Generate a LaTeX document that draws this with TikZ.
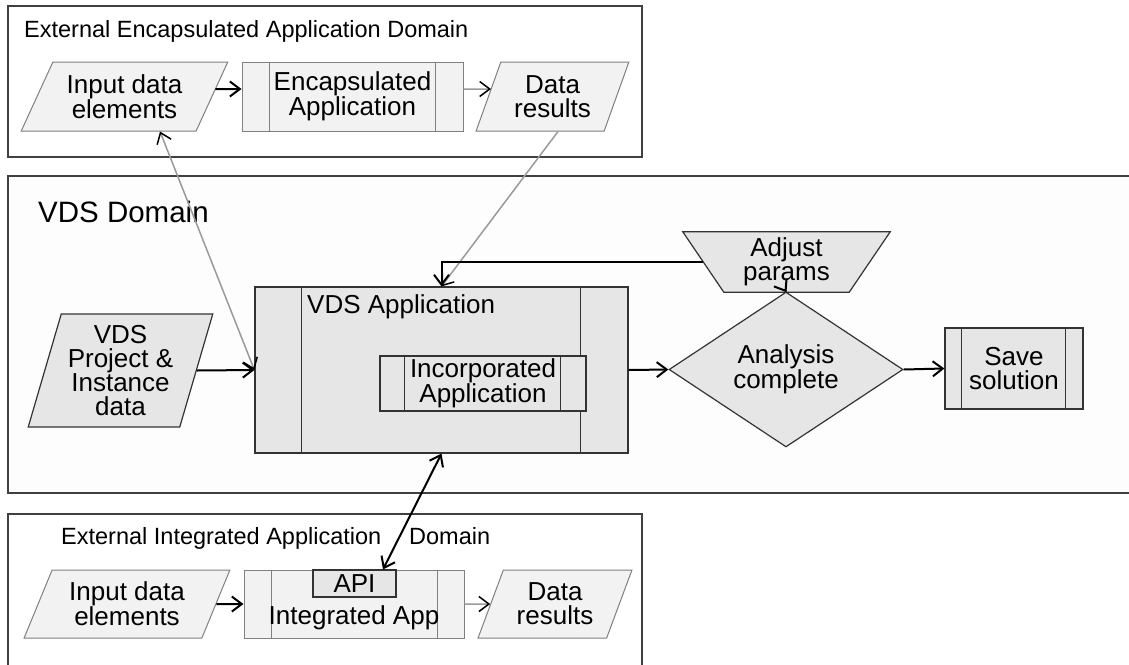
\documentclass[tikz,border=0pt]{standalone}
\usepackage{fontspec}
\setmainfont{Liberation Sans}
\usetikzlibrary{shapes.geometric,arrows.meta,calc}
\definecolor{extfill}{HTML}{F2F2F2}
\definecolor{extline}{HTML}{808080}
\definecolor{vdsfill}{HTML}{E6E6E6}
\definecolor{vdsline}{HTML}{333333}
\definecolor{domline}{HTML}{404040}
\definecolor{grayarr}{HTML}{9A9A9A}
\definecolor{vdsbg}{HTML}{FDFDFD}
\tikzset{
  body/.style={font=\fontsize{26}{24}\selectfont, align=center},
  titletext/.style={font=\fontsize{23.5}{24}\selectfont, inner sep=0pt, anchor=base west},
  bigtitle/.style={font=\fontsize{29.5}{30}\selectfont, inner sep=0pt, anchor=base west},
  extshape/.style={draw=extline, fill=extfill, line width=1pt, inner sep=0pt, body},
  vdsshape/.style={draw=vdsline, fill=vdsfill, line width=1.2pt, inner sep=0pt, body},
  para/.style={trapezium, trapezium stretches=true},
  extinner/.style={draw=extline, line width=1pt},
  vdsinner/.style={draw=vdsline, line width=1.2pt},
  domainbox/.style={draw=domline, line width=2pt},
  arr/.style={line width=2pt, black, -{Straight Barb[length=10pt,width=15pt]}},
  darr/.style={line width=2pt, black, {Straight Barb[length=10pt,width=15pt]}-{Straight Barb[length=10pt,width=15pt]}},
  garr/.style={line width=1.5pt, grayarr, -{Straight Barb[length=10pt,width=15pt,color=black]}},
  gdarr/.style={line width=1.5pt, grayarr, {Straight Barb[length=10pt,width=15pt,color=black]}-{Straight Barb[length=10pt,width=15pt,color=black]}},
}
\begin{document}
\begin{tikzpicture}[x=1pt,y=-1pt]
\fill[white] (0,0) rectangle (1129,664);
\useasboundingbox (0,0) rectangle (1129,664);

% domain frames
\draw[domainbox] (8,6) rectangle (642,157);
\draw[domainbox, fill=vdsbg] (8,176) rectangle (1140,493);
\draw[domainbox] (8,514) rectangle (642,680);

% titles
\node[titletext] (t1) at (24,37) {External Encapsulated Application Domain};
\node[bigtitle] (t2) at (38,222) {VDS Domain};
\node[titletext] (t3) at (61,544) {External Integrated Application\hspace{28pt}Domain};

% top domain
\node[extshape, para, trapezium left angle=60, trapezium right angle=120,
      minimum width=207pt, minimum height=69pt] (in1) at (124.5,96.5) {Input data\\elements};
\node[extshape, minimum width=221pt, minimum height=69pt] (enc) at (352.5,96.5) {Encapsulated\\Application};
\draw[extinner] ([xshift=28pt]enc.north west) -- ([xshift=28pt]enc.south west);
\draw[extinner] ([xshift=-28pt]enc.north east) -- ([xshift=-28pt]enc.south east);
\node[extshape, para, trapezium left angle=66.5, trapezium right angle=113.5,
      minimum width=153pt, minimum height=69pt] (dr1) at (552.5,96.5) {Data\\results};

% VDS domain
\node[vdsshape, minimum width=373pt, minimum height=166pt] (app) at (441.5,370) {};
\draw[vdsinner] ([xshift=47pt]app.north west) -- ([xshift=47pt]app.south west);
\draw[vdsinner] ([xshift=-48pt]app.north east) -- ([xshift=-48pt]app.south east);
\node[body, inner sep=0pt, anchor=base west] (applbl) at (307,313) {VDS Application};
\node[vdsshape, minimum width=206pt, minimum height=55pt] (inc) at (483,383.5) {Incorporated\\Application};
\draw[vdsinner] ([xshift=25pt]inc.north west) -- ([xshift=25pt]inc.south west);
\draw[vdsinner] ([xshift=-26pt]inc.north east) -- ([xshift=-26pt]inc.south east);

\node[vdsshape, para, trapezium left angle=72, trapezium right angle=108,
      minimum width=185pt, minimum height=113pt] (proj) at (120.5,370.5) {VDS\\Project \&\\Instance\\data};

% inverted trapezium (Adjust params)
\node[inner sep=0pt, minimum width=207pt, minimum height=60pt] (adj) at (786.5,262) {};
\filldraw[draw=vdsline, fill=vdsfill, line width=1.2pt]
  (adj.north west) -- (adj.north east) -- ([xshift=-41pt]adj.south east)
  -- ([xshift=41pt]adj.south west) -- cycle;
\node[body, inner sep=0pt] (adjlbl) at (adj.center) {Adjust\\params};

\node[vdsshape, diamond, minimum width=234pt, minimum height=109pt] (dia) at (786,369.5) {Analysis\\complete};
\node[vdsshape, minimum width=138pt, minimum height=81pt] (save) at (1014,368.5) {Save\\solution};
\draw[vdsinner] ([xshift=17pt]save.north west) -- ([xshift=17pt]save.south west);
\draw[vdsinner] ([xshift=-18pt]save.north east) -- ([xshift=-18pt]save.south east);

% bottom domain
\node[extshape, para, trapezium left angle=64, trapezium right angle=116,
      minimum width=206pt, minimum height=68pt] (in2) at (127,604) {Input data\\elements};
\node[extshape, minimum width=220pt, minimum height=68pt] (int) at (354,604) {};
\draw[extinner] ([xshift=28pt]int.north west) -- ([xshift=28pt]int.south west);
\draw[extinner] ([xshift=-27pt]int.north east) -- ([xshift=-27pt]int.south east);
\node[vdsshape, fill=vdsfill, minimum width=83pt, minimum height=27pt] (api) at (354.5,583.5) {API};
\node[body, inner sep=0pt] (intlbl) at (354,618) {Integrated App};
\node[extshape, para, trapezium left angle=66, trapezium right angle=114,
      minimum width=154pt, minimum height=68pt] (dr2) at (555,604) {Data\\results};

% connectors
\draw[arr] ([shift={(3pt,7.5pt)}]in1.east) -- ([yshift=7.5pt]enc.west);
\draw[garr] ([yshift=7.5pt]enc.east) -- ([shift={(3pt,7.5pt)}]dr1.west);
\draw[gdarr] ([xshift=35.5pt]in1.south) -- (app.west);
\draw[garr] ([xshift=5.5pt]dr1.south) -- (app.north);
\draw[arr] (proj.east) -- (app.west);
\draw[arr] ([xshift=20.5pt]adj.west) -| (app.north);
\draw[arr] (app.east) -- (dia.west);
\draw[arr] (dia.north) -- (adj.south);
\draw[arr] (dia.east) -- (save.west);
\draw[darr] (app.south) -- ([xshift=28.5pt]api.north);
\draw[arr] (in2.east) -- (int.west);
\draw[garr] (int.east) -- (dr2.west);
\end{tikzpicture}
\end{document}
